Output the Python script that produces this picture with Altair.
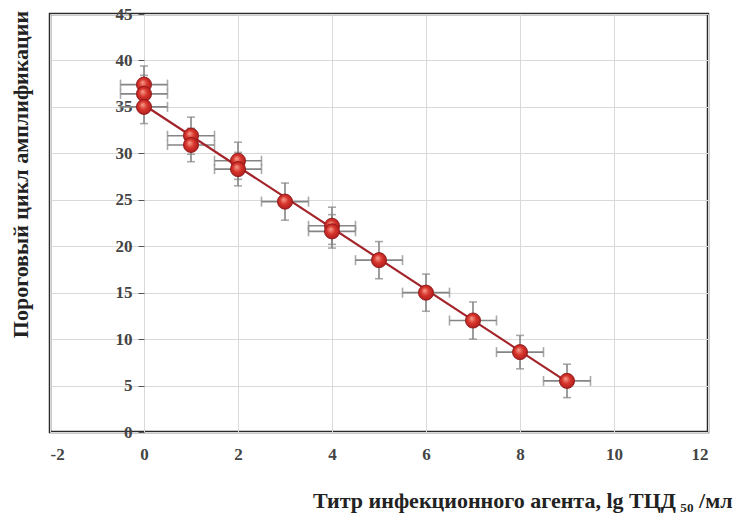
import altair as alt
import pandas as pd

# Data
titer = [0, 0, 0, 1, 1, 2, 2, 3, 4, 4, 5, 6, 7, 8, 9]
ct = [37.4, 36.4, 35.0, 31.9, 30.9, 29.2, 28.3, 24.8, 22.2, 21.6, 18.5, 15.0, 12.0, 8.6, 5.5]
x_err = [0.5] * 15
y_err = [2.0, 2.0, 1.8, 2.0, 1.8, 2.0, 1.8, 2.0, 2.0, 1.8, 2.0, 2.0, 2.0, 1.8, 1.8]

line_x = [0, 9]
line_y = [35.2, 5.4]

x_ticks = [-2, 0, 2, 4, 6, 8, 10, 12]
y_ticks = [0, 5, 10, 15, 20, 25, 30, 35, 40, 45]

df = pd.DataFrame({"x": titer, "y": ct, "xe": x_err, "ye": y_err})
df["xlo"] = df["x"] - df["xe"]
df["xhi"] = df["x"] + df["xe"]
df["ylo"] = df["y"] - df["ye"]
df["yhi"] = df["y"] + df["ye"]
line_df = pd.DataFrame({"x": line_x, "y": line_y})

FONT = "Liberation Serif"
TFONT = "Liberation Serif, DejaVu Serif, serif"
xscale = alt.Scale(domain=[-2, 12], nice=False, zero=False)
yscale = alt.Scale(domain=[0, 45], nice=False, zero=False)

xaxis = alt.Axis(
    values=x_ticks, grid=True, gridColor="#d9d9d9", domain=False, ticks=False,
    labelFont=FONT, labelFontSize=17, labelFontWeight="bold", labelColor="#444",
    labelPadding=14, labelExpr="replace(datum.label, '\u2212', '-')",
    title="Титр инфекционного агента, lg ТЦД\u2009₅₀ /мл",
    titleFont=TFONT, titleFontSize=22, titleFontWeight="bold", titleColor="#222",
    titleX=682, titleY=75, titleAlign="right", titleBaseline="alphabetic",
)
yaxis = alt.Axis(
    values=y_ticks, grid=True, gridColor="#d9d9d9", domain=False, offset=-94,
    tickColor="#555", tickSize=6, labelPadding=6,
    labelFont=FONT, labelFontSize=17, labelFontWeight="bold", labelColor="#444",
    title="Пороговый цикл амплификации",
    titleFont=TFONT, titleFontSize=22, titleFontWeight="bold", titleColor="#222",
    titleX=-124, titleY=160, titleAlign="center", titleBaseline="middle", titleAngle=-90,
)

base = alt.Chart(df)

grid = base.mark_point(opacity=0).encode(
    x=alt.X("x:Q", scale=xscale, axis=xaxis),
    y=alt.Y("y:Q", scale=yscale, axis=yaxis),
)

ERR = "#858585"
hbar = base.mark_rule(color=ERR, strokeWidth=1.6).encode(
    x=alt.X("xlo:Q", scale=xscale), x2="xhi:Q", y=alt.Y("y:Q", scale=yscale))
vbar = base.mark_rule(color=ERR, strokeWidth=1.6).encode(
    x=alt.X("x:Q", scale=xscale), y=alt.Y("ylo:Q", scale=yscale), y2="yhi:Q")
hcap_lo = base.mark_tick(color=ERR, orient="vertical", size=10, thickness=1.6).encode(
    x=alt.X("xlo:Q", scale=xscale), y=alt.Y("y:Q", scale=yscale))
hcap_hi = base.mark_tick(color=ERR, orient="vertical", size=10, thickness=1.6).encode(
    x=alt.X("xhi:Q", scale=xscale), y=alt.Y("y:Q", scale=yscale))
vcap_lo = base.mark_tick(color=ERR, orient="horizontal", size=8, thickness=1.6).encode(
    x=alt.X("x:Q", scale=xscale), y=alt.Y("ylo:Q", scale=yscale))
vcap_hi = base.mark_tick(color=ERR, orient="horizontal", size=8, thickness=1.6).encode(
    x=alt.X("x:Q", scale=xscale), y=alt.Y("yhi:Q", scale=yscale))

line = alt.Chart(line_df).mark_line(color="#a3242a", strokeWidth=2.2).encode(
    x=alt.X("x:Q", scale=xscale), y=alt.Y("y:Q", scale=yscale))

sphere = alt.RadialGradient(
    gradient="radial",
    stops=[
        alt.GradientStop(color="#f6a08e", offset=0),
        alt.GradientStop(color="#d8352c", offset=0.45),
        alt.GradientStop(color="#a3171a", offset=1),
    ],
    x1=0.4, y1=0.35, r1=0, x2=0.5, y2=0.5, r2=0.6,
)
points = base.mark_point(
    shape="circle", filled=True, size=230, fill=sphere, fillOpacity=1,
    stroke="#8a1414", strokeWidth=0.8, opacity=1,
).encode(x=alt.X("x:Q", scale=xscale), y=alt.Y("y:Q", scale=yscale))

chart = alt.layer(
    grid, hbar, vbar, hcap_lo, hcap_hi, vcap_lo, vcap_hi, line, points
).properties(
    width=658, height=418,
    autosize=alt.AutoSizeParams(type="none"),
    padding={"left": 50, "top": 14, "right": 37, "bottom": 81},
    background="white",
).configure_view(stroke="#2a2a2a", strokeWidth=2.5)

chart.save("out.html", embed_options={"renderer": "svg", "actions": False})
